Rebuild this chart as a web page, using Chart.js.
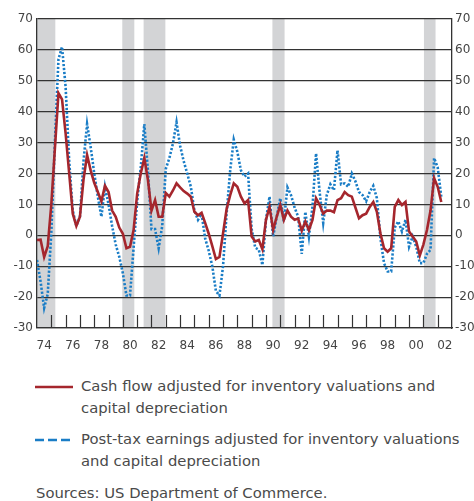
<!DOCTYPE html>
<html>
<head>
<meta charset="utf-8">
<script src="https://cdn.jsdelivr.net/npm/chart.js@4.4.0/dist/chart.umd.min.js"></script>
<style>
  body { margin: 0; background: #fff; font-family: "DejaVu Sans", sans-serif; color: #4a4a4a; }
  #wrap { position: relative; width: 474px; height: 350px; }
  .item { position: absolute; left: 0; width: 474px; font-size: 14.8px; line-height: 21.5px; }
  .item svg { position: absolute; left: 35px; top: 10px; }
  .item .txt { position: absolute; left: 81px; top: 0; white-space: nowrap; }
  #src { position: absolute; left: 36px; top: 482px; font-size: 14.8px; line-height: 21.5px; white-space: nowrap; }
</style>
</head>
<body>
<div id="wrap"><canvas id="myChart"></canvas></div>
<div class="item" style="top:375px">
  <svg width="38" height="4"><line x1="0" y1="2" x2="38" y2="2" stroke="#a5262d" stroke-width="2.6"/></svg>
  <div class="txt">Cash flow adjusted for inventory valuations and<br>capital depreciation</div>
</div>
<div class="item" style="top:428px">
  <svg width="38" height="4"><line x1="0" y1="2" x2="38" y2="2" stroke="#1a7dc6" stroke-width="2.6" stroke-dasharray="9 4"/></svg>
  <div class="txt">Post-tax earnings adjusted for inventory valuations<br>and capital depreciation</div>
</div>
<div id="src">Sources: US Department of Commerce.</div>
<script>
// quarterly data, first point is 1974 Q1
var firstYear = 1974;
// x-axis labels, shown at even years
var yearLabels = ['74','76','78','80','82','84','86','88','90','92','94','96','98','00','02'];
// recessions (start, end) in years
var recessions = [[1974.0, 1975.28], [1979.96, 1980.8], [1981.45, 1982.97], [1990.45, 1991.3], [2001.04, 2001.85]];

var cashFlow = [
  -1.5, -1.4, -7, -3.5,
  10, 28, 46, 44,
  33, 20, 7, 3,
  6, 18, 26, 21,
  17, 14, 11, 16,
  14, 8, 6, 2.5,
  0.5, -4.2, -3.7, 1.7,
  13.5, 20, 25, 18,
  8, 11.4, 6, 6,
  13.7, 12.5, 14.5, 16.8,
  15.5, 14.3, 13.5, 12.5,
  7.6, 6.5, 7.3, 4,
  0.5, -3.5, -7.7, -7,
  0.6, 8.5, 13, 16.8,
  15.7, 12.5, 10.3, 11.4,
  -0.4, -2, -1.5, -4.5,
  5, 9.2, 1.7, 6,
  9.8, 5, 8, 6,
  5, 5.4, 1.5, 4.5,
  1.7, 5, 12, 9.8,
  7, 8, 8, 7.5,
  11.4, 12, 14, 13,
  12.5, 9, 5.5, 6.5,
  7, 9.2, 10.8, 7.6,
  0.6, -4.2, -5.3, -4.2,
  9.2, 11.4, 9.8, 10.8,
  1.2, -0.4, -2, -6.5,
  -3, 1.7, 8, 18.5,
  15.7, 10.8
];
var postTax = [
  -8, -15, -23.5, -19,
  1, 30, 57, 61,
  48, 24, 8, 3,
  6, 24, 36, 28.6,
  20, 12.5, 6, 15.7,
  10, 3, -3, -7,
  -12.3, -19.5, -19.5, -4,
  11, 22, 36, 21,
  2, 2, -4.2, 3,
  21.5, 25, 29.7, 36.6,
  29, 24, 20, 15.7,
  8, 5, 7, -1,
  -5, -10, -18, -19.5,
  -10, 7, 21, 31,
  27, 21, 19, 20,
  2, -4, -4.7, -9.6,
  5, 12.5, -0.4, 6,
  12, 4.5, 15.5, 13,
  9, 6, -6, 7.6,
  -0.4, 9.2, 26.5, 14,
  4, 13, 16.5, 14.6,
  27.5, 16.5, 16.8, 15.7,
  20, 17.5, 14, 13,
  11, 14, 16, 12,
  -1, -9, -11.7, -11.7,
  2.5, 4.5, 1.2, 5,
  -3.7, -0.4, -3.7, -9,
  -9, -6, -4.7, 25,
  22, 12.5
];

function toPoints(arr) {
  return arr.map(function (v, i) { return { x: firstYear + i / 4, y: v }; });
}

var shading = {
  id: 'shading',
  beforeDraw: function (chart) {
    var ctx = chart.ctx, area = chart.chartArea, x = chart.scales.x;
    ctx.save();
    ctx.fillStyle = '#d3d4d6';
    recessions.forEach(function (r) {
      var x0 = Math.max(x.getPixelForValue(r[0]), area.left);
      var x1 = Math.min(x.getPixelForValue(r[1]), area.right);
      ctx.fillRect(x0, area.top, x1 - x0, area.bottom - area.top);
    });
    ctx.restore();
  }
};

// tick marks inside the plot, one per year
var yearTicks = {
  id: 'yearTicks',
  beforeDatasetsDraw: function (chart) {
    var ctx = chart.ctx, area = chart.chartArea, x = chart.scales.x;
    ctx.save();
    ctx.strokeStyle = '#333';
    ctx.lineWidth = 1.2;
    x.ticks.forEach(function (t) {
      if (t.value <= x.min || t.value >= x.max) return;
      var px = Math.round(x.getPixelForValue(t.value)) + 0.5;
      ctx.beginPath();
      ctx.moveTo(px, area.bottom);
      ctx.lineTo(px, area.bottom - 13);
      ctx.stroke();
    });
    ctx.restore();
  }
};

var tickFont = { family: 'DejaVu Sans', size: 12 };

var ctx = document.getElementById('myChart');
var myChart = new Chart(ctx, {
  type: 'line',
  data: {
    datasets: [
      {
        data: toPoints(cashFlow),
        label: 'Cash flow adjusted for inventory valuations and capital depreciation',
        borderColor: '#a5262d',
        borderWidth: 2.6,
        pointRadius: 0,
        fill: false
      },
      {
        data: toPoints(postTax),
        label: 'Post-tax earnings adjusted for inventory valuations and capital depreciation',
        borderColor: '#1a7dc6',
        borderWidth: 2.6,
        borderDash: [2.2, 1.8],
        pointRadius: 0,
        fill: false
      }
    ]
  },
  options: {
    responsive: true,
    maintainAspectRatio: false,
    animation: false,
    layout: { padding: { top: 19, left: 0, right: 0, bottom: 0 } },
    plugins: { legend: { display: false }, tooltip: { enabled: false } },
    scales: {
      x: {
        type: 'linear',
        min: 1974,
        max: 2003,
        afterFit: function (s) { s.height = 22; },
        grid: { display: false },
        border: { display: true, color: '#333', width: 1.3 },
        ticks: {
          stepSize: 1,
          autoSkip: false,
          maxRotation: 0,
          padding: 3,
          labelOffset: 7.15,
          color: '#444',
          font: tickFont,
          callback: function (v) {
            var s = String(v).slice(2);
            return (v <= 2002 && yearLabels.indexOf(s) >= 0) ? s : '';
          }
        }
      },
      y: {
        position: 'left',
        min: -30,
        max: 70,
        afterFit: function (s) { s.width = 37; },
        grid: { color: '#333', lineWidth: 1.2, drawTicks: false },
        border: { display: true, color: '#333', width: 1.3 },
        ticks: { stepSize: 10, padding: 4, color: '#444', font: tickFont }
      },
      y2: {
        position: 'right',
        min: -30,
        max: 70,
        afterFit: function (s) { s.width = 22; },
        grid: { display: false, drawTicks: false },
        border: { display: true, color: '#333', width: 1.3 },
        ticks: { stepSize: 10, padding: 3, color: '#444', font: tickFont }
      }
    }
  },
  plugins: [shading, yearTicks]
});
</script>
</body>
</html>
